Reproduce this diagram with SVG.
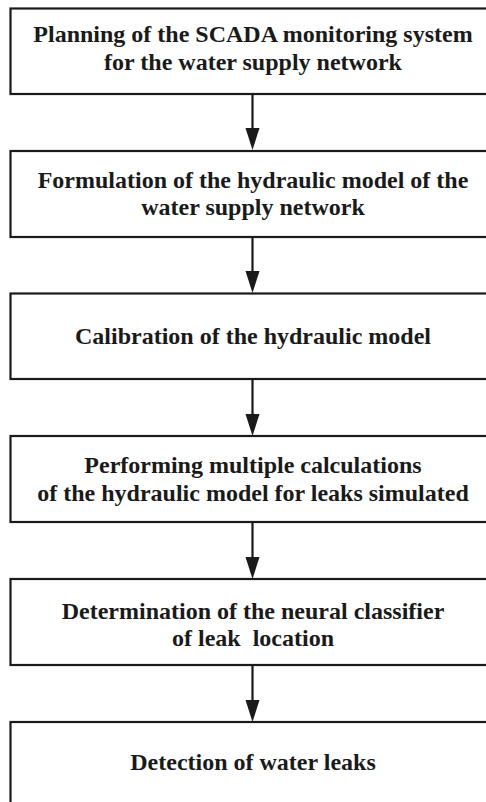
<svg xmlns="http://www.w3.org/2000/svg" width="486" height="802" viewBox="0 0 486 802">
<style>
.box{fill:#fff;stroke:#1a1a1a;stroke-width:2.2}
.t{font-family:"Liberation Serif","Times New Roman",serif;font-weight:bold;font-size:24px;fill:#1a1a1a;text-anchor:middle}
.c{stroke:#1a1a1a;stroke-width:2.2;fill:none}
.ah{fill:#1a1a1a}
</style>
<rect width="486" height="802" fill="#fff"/>
<g id="connectors">
<line class="c" x1="252.5" y1="94" x2="252.5" y2="128"/>
<path class="ah" d="M245.5,128 L259.5,128 L252.5,150 Z"/>
<line class="c" x1="252.5" y1="237" x2="252.5" y2="271"/>
<path class="ah" d="M245.5,271 L259.5,271 L252.5,293 Z"/>
<line class="c" x1="252.5" y1="379" x2="252.5" y2="414"/>
<path class="ah" d="M245.5,414 L259.5,414 L252.5,436 Z"/>
<line class="c" x1="252.5" y1="522" x2="252.5" y2="557"/>
<path class="ah" d="M245.5,557 L259.5,557 L252.5,579 Z"/>
<line class="c" x1="252.5" y1="665" x2="252.5" y2="700"/>
<path class="ah" d="M245.5,700 L259.5,700 L252.5,722 Z"/>
</g>
<g id="n1">
<rect class="box" x="10.5" y="8.5" width="490" height="85.5"/>
<text class="t" x="253" y="42">Planning of the SCADA monitoring system</text>
<text class="t" x="253" y="70">for the water supply network</text>
</g>
<g id="n2">
<rect class="box" x="10.5" y="151" width="490" height="86"/>
<text class="t" x="253" y="188">Formulation of the hydraulic model of the</text>
<text class="t" x="253" y="215">water supply network</text>
</g>
<g id="n3">
<rect class="box" x="10.5" y="293.5" width="490" height="85.5"/>
<text class="t" x="253" y="344">Calibration of the hydraulic model</text>
</g>
<g id="n4">
<rect class="box" x="10.5" y="436" width="490" height="86"/>
<text class="t" x="253" y="473">Performing multiple calculations</text>
<text class="t" x="253" y="501">of the hydraulic model for leaks simulated</text>
</g>
<g id="n5">
<rect class="box" x="10.5" y="579" width="490" height="86"/>
<text class="t" x="253" y="619">Determination of the neural classifier</text>
<text class="t" x="253" y="646">of leak&#160; location</text>
</g>
<g id="n6">
<rect class="box" x="10.5" y="722" width="490" height="100"/>
<text class="t" x="253" y="770">Detection of water leaks</text>
</g>
</svg>
